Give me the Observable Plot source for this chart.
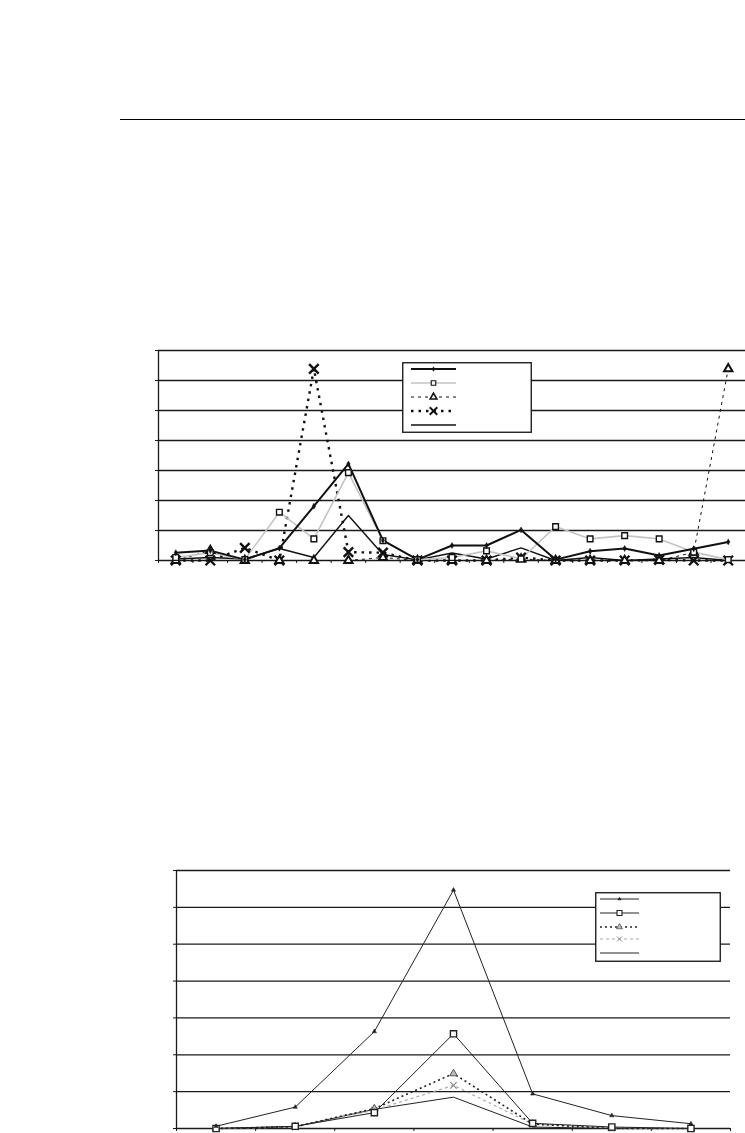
<!DOCTYPE html>
<html>
<head>
<meta charset="utf-8">
<script src="https://cdn.jsdelivr.net/npm/d3@7"></script>
<script src="https://cdn.jsdelivr.net/npm/@observablehq/plot@0.6"></script>
<style>
  html, body { margin: 0; padding: 0; background: #fff; }
  #page { position: relative; width: 745px; height: 1133px; overflow: hidden; font-family: "Liberation Sans", Arial, sans-serif; }
  #rule { position: absolute; left: 120px; top: 119px; width: 625px; height: 0; border-top: 1.5px solid #000; }
  .chart { position: absolute; left: 0; }
  .legend { position: absolute; }
</style>
</head>
<body>
<div id="page">
  <div id="rule"></div>
  <div id="top" class="chart" style="top:330px"></div>
  <div id="bottom" class="chart" style="top:850px"></div>
  <svg id="legTop" class="legend" style="left:402px;top:362px" width="130" height="71"></svg>
  <svg id="legBot" class="legend" style="left:595px;top:892px" width="126" height="70"></svg>
</div>
<script>
// ---------- Top chart data (17 categories, no visible labels) ----------
const topCategories = d3.range(1, 18);
const topS1 = [0.26, 0.33, 0.03, 0.41, 1.81, 3.22, 0.67, 0.03, 0.5, 0.5, 1.02, 0.03, 0.31, 0.4, 0.17, 0.39, 0.62];
const topS2 = [0.1, 0.26, 0.03, 1.61, 0.72, 2.93, 0.66, 0.03, 0.1, 0.32, 0.05, 1.13, 0.72, 0.83, 0.72, 0.28, 0.03];
const topS3 = [0, 0.33, 0, 0, 0, 0, 0.1, 0, 0, 0, 0.05, 0, 0, 0, 0, 0.27, 6.39];
const topS4 = [0, 0, 0.42, 0, 6.39, 0.28, 0.26, 0, 0, 0, 0.1, 0, 0, 0, 0.02, 0, 0];
const topS5 = [0.05, 0.1, 0.05, 0.4, 0.1, 1.5, 0.2, 0.02, 0.25, 0.05, 0.42, 0, 0.1, 0, 0.05, 0.1, 0];
const topYTicks = [0, 1, 2, 3, 4, 5, 6, 7];

// ---------- Bottom chart data (7 categories, no visible labels) ----------
const botCategories = d3.range(1, 8);
const botA = [0.06, 0.58, 2.63, 6.47, 0.94, 0.35, 0.13];
const botB = [0, 0.06, 0.43, 2.57, 0.14, 0.04, 0];
const botC = [0, 0.05, 0.54, 1.49, 0.12, 0, 0];
const botD = [0, 0.04, 0.5, 1.17, 0.12, 0.02, 0];
const botE = [0, 0.05, 0.52, 0.85, 0.04, 0, 0];
const botYTicks = [0, 1, 2, 3, 4, 5, 6, 7];

// ---------- Series styles ----------
const topStyles = [
  {vals: topS5, stroke: "#111", sw: 1.4, dash: null, symbol: null},
  {vals: topS4, stroke: "#111", sw: 2.4, dash: "2.5,5", symbol: "times", r: 4.4, mfill: "none", mstroke: "#111", msw: 2.4},
  {vals: topS3, stroke: "#111", sw: 1, dash: "3,4", symbol: "triangle", r: 3.1, mfill: "#fff", mstroke: "#111", msw: 2},
  {vals: topS2, stroke: "#c4c4c4", sw: 1.6, dash: null, symbol: "square", r: 3.2, mfill: "#fff", mstroke: "#111", msw: 1.4},
  {vals: topS1, stroke: "#111", sw: 2, dash: null, symbol: "diamond", r: 1.8, mfill: "#111", mstroke: "#111", msw: 0.5}
];
const botStyles = [
  {vals: botE, stroke: "#222", sw: 1, dash: null, symbol: null},
  {vals: botD, stroke: "#aaa", sw: 1.2, dash: "3,3", symbol: "times", r: 3, mfill: "none", mstroke: "#888", msw: 1.2},
  {vals: botC, stroke: "#222", sw: 1.6, dash: "2,3", symbol: "triangle", r: 2.8, mfill: "#bbb", mstroke: "#555", msw: 1},
  {vals: botB, stroke: "#222", sw: 1, dash: null, symbol: "square", r: 3.5, mfill: "#fff", mstroke: "#222", msw: 1.4},
  {vals: botA, stroke: "#222", sw: 1, dash: null, symbol: "triangle", r: 1.6, mfill: "#222", mstroke: "#222", msw: 0.5}
];

function seriesMarks(categories, styles) {
  const marks = [];
  for (const s of styles) {
    const data = categories.map((c, i) => ({x: c, y: s.vals[i]}));
    marks.push(Plot.line(data, {x: "x", y: "y", stroke: s.stroke, strokeWidth: s.sw, strokeDasharray: s.dash || undefined, strokeLinecap: "butt"}));
  }
  for (const s of styles) {
    if (!s.symbol) continue;
    const data = categories.map((c, i) => ({x: c, y: s.vals[i]}));
    marks.push(Plot.dot(data, {x: "x", y: "y", symbol: s.symbol, r: s.r, fill: s.mfill, stroke: s.mstroke, strokeWidth: s.msw}));
  }
  return marks;
}

function chart(categories, styles, yTicks, opts) {
  const n = categories.length;
  const bounds = d3.range(0, n + 1).map(k => k + 0.5);
  return Plot.plot({
    width: 745,
    height: opts.height,
    marginTop: opts.mt,
    marginBottom: opts.mb,
    marginLeft: opts.ml,
    marginRight: opts.mr,
    style: {background: "transparent", overflow: "visible"},
    x: {type: "linear", domain: [0.5, n + 0.5]},
    y: {domain: [0, 7]},
    marks: [
      Plot.ruleY(yTicks, {stroke: "#1a1a1a", strokeWidth: 1.3}),
      Plot.ruleX([0.5], {stroke: "#1a1a1a", strokeWidth: 1.3}),
      Plot.axisY({ticks: yTicks, tickSize: 3, tickFormat: () => "", label: null, stroke: "#1a1a1a"}),
      Plot.axisX({ticks: bounds, tickSize: 3, tickFormat: () => "", label: null, stroke: "#1a1a1a"}),
      ...seriesMarks(categories, styles)
    ]
  });
}

document.getElementById("top").append(
  chart(topCategories, topStyles, topYTicks, {height: 250, mt: 20, mb: 20, ml: 158, mr: 0})
);
document.getElementById("bottom").append(
  chart(botCategories, botStyles, botYTicks, {height: 283, mt: 20, mb: 5, ml: 176, mr: 15})
);

// ---------- Legends (no text in the reference) ----------
const symMap = {times: d3.symbolTimes, triangle: d3.symbolTriangle, square: d3.symbolSquare, diamond: d3.symbolDiamond};
function legend(id, styles, w, h, x0, x1, ys) {
  const svg = d3.select(id);
  svg.append("rect").attr("x", 0.75).attr("y", 0.75).attr("width", w - 1.5).attr("height", h - 1.5)
    .attr("fill", "#fff").attr("stroke", "#111").attr("stroke-width", 1.3);
  const order = styles.slice().reverse();
  order.forEach((s, i) => {
    const y = ys[i];
    svg.append("line").attr("x1", x0).attr("x2", x1).attr("y1", y).attr("y2", y)
      .attr("stroke", s.stroke).attr("stroke-width", s.sw).attr("stroke-dasharray", s.dash);
    if (s.symbol) {
      const rr = s.r * 0.8;
      svg.append("path").attr("d", d3.symbol(symMap[s.symbol], rr * rr * Math.PI)())
        .attr("transform", `translate(${(x0 + x1) / 2},${y})`)
        .attr("fill", s.mfill).attr("stroke", s.mstroke).attr("stroke-width", s.msw * 0.8);
    }
  });
}
legend("#legTop", topStyles, 130, 71, 9, 54, [7, 21, 35, 49, 63]);
legend("#legBot", botStyles, 126, 70, 5, 44, [7, 21, 35, 47, 61]);
</script>
</body>
</html>
